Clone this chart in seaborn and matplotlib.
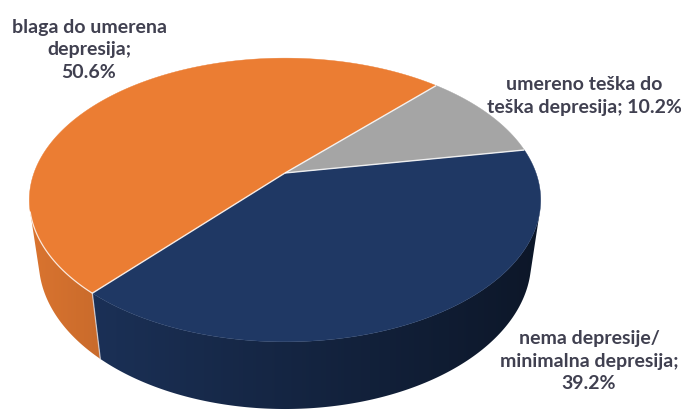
import numpy as np
import matplotlib
matplotlib.use("Agg")
import matplotlib.pyplot as plt
from matplotlib.patches import Polygon
from matplotlib import font_manager
import seaborn as sns

# Survey result: share of respondents per depression level
categories = ["nema depresije/\nminimalna depresija",
              "blaga do umerena\ndepresija",
              "umereno teška do\nteška depresija"]
shares = [39.2, 50.6, 10.2]
value_sep = ["\n", "\n", " "]

sns.set_theme(style="white")
palette = sns.color_palette(["#1F3864", "#EB7D33", "#A5A5A5"])

installed = {f.name for f in font_manager.fontManager.ttflist}
family = [f for f in ["Liberation Sans Narrow", "Lato", "DejaVu Sans"] if f in installed]
plt.rcParams["font.family"] = family

# Perspective view of a flat cylinder (pie disc)
D = 4.41                  # camera distance
ALPHA = np.radians(33)    # camera elevation
SA, CA = np.sin(ALPHA), np.cos(ALPHA)
SCALE = 1107.0
CX, CY = 285.0, 173.0
THICK = 0.30
START = 10.0              # first wedge starts here, going clockwise


def project(theta_deg, z):
    t = np.radians(theta_deg)
    X, Y = np.cos(t), np.sin(t)
    depth = D + Y * CA - z * SA
    u = X / depth
    v = (Y * SA + z * CA) / depth
    return CX + SCALE * u, CY - SCALE * v


def centre(z):
    depth = D - z * SA
    return CX, CY - SCALE * (z * CA) / depth


fig = plt.figure(figsize=(6.81, 4.11), dpi=100)
ax = fig.add_axes([0, 0, 1, 1])

# wedge angle ranges (clockwise from START)
spans = np.array(shares) / sum(shares) * 360.0
ends = START - np.cumsum(spans)
starts = ends + spans

# visible range of the outer wall (faces the camera)
lim = np.degrees(np.arcsin(1.0 / (D * CA)))
vis_lo, vis_hi = -180 + lim, -lim


def shade(x):
    return np.clip(0.93 - (x - 27.0) / 520.0 * 0.53, 0.3, 1.0)


for i in range(len(shares)):
    a_hi, a_lo = starts[i], ends[i]
    # shift to overlap the visible window
    for k in (0, -360, 360):
        lo = max(a_lo + k, vis_lo)
        hi = min(a_hi + k, vis_hi)
        if hi <= lo:
            continue
        th = np.linspace(hi, lo, 200)
        tx, ty = project(th, 0.0)
        bx, by = project(th[::-1], -THICK)
        pts = np.column_stack([np.r_[tx, bx], np.r_[ty, by]])
        poly = Polygon(pts, closed=True, facecolor="none", edgecolor="none")
        ax.add_patch(poly)
        x0, x1 = pts[:, 0].min() - 2, pts[:, 0].max() + 2
        y0, y1 = pts[:, 1].min() - 2, pts[:, 1].max() + 2
        xs = np.linspace(x0, x1, 400)
        base = np.array(palette[i])
        img = (base[None, None, :] * shade(xs)[None, :, None]).repeat(4, axis=0)
        im = ax.imshow(img, extent=(x0, x1, y1, y0), aspect="auto",
                       interpolation="bilinear", zorder=2)
        im.set_clip_path(poly)

# top faces
for i in range(len(shares)):
    th = np.linspace(starts[i], ends[i], 300)
    ax_, ay_ = project(th, 0.0)
    c0 = centre(0.0)
    pts = np.column_stack([np.r_[c0[0], ax_], np.r_[c0[1], ay_]])
    ax.add_patch(Polygon(pts, closed=True, facecolor=palette[i],
                         edgecolor=palette[i], lw=0.3, zorder=3))

# light seams between wedges on the top
for a in starts:
    px, py = project(a, 0.0)
    ax.plot([CX, px], [CY, py], color="white", lw=1.0, alpha=0.85,
            zorder=4, solid_capstyle="butt")

# seam on the wall where the two front wedges meet
seam = ends[0]
sx0, sy0 = project(seam, 0.0)
sx1, sy1 = project(seam, -THICK)
ax.plot([sx0, sx1], [sy0, sy1], color="#d8d8e0", lw=0.9, alpha=0.8, zorder=4)

# highlight along the front rim of the orange wedge
th = np.linspace(vis_lo, seam + 360 if seam < -180 else seam, 100)
hx, hy = project(th, 0.0)
ax.plot(hx, hy, color="white", lw=0.9, alpha=0.8, zorder=4)

# labels
label_pos = [(589, 361), (89, 50), (584, 96)]
for i, cat in enumerate(categories):
    txt = f"{cat};{value_sep[i]}{shares[i]:.1f}%"
    ax.text(label_pos[i][0], label_pos[i][1], txt, ha="center", va="center",
            multialignment="center", fontsize=14, fontweight="bold",
            color="#404050", linespacing=1.42, zorder=5)

ax.set_xlim(0, 681)
ax.set_ylim(411, 0)
ax.axis("off")
fig.savefig("out.png", dpi=100)
